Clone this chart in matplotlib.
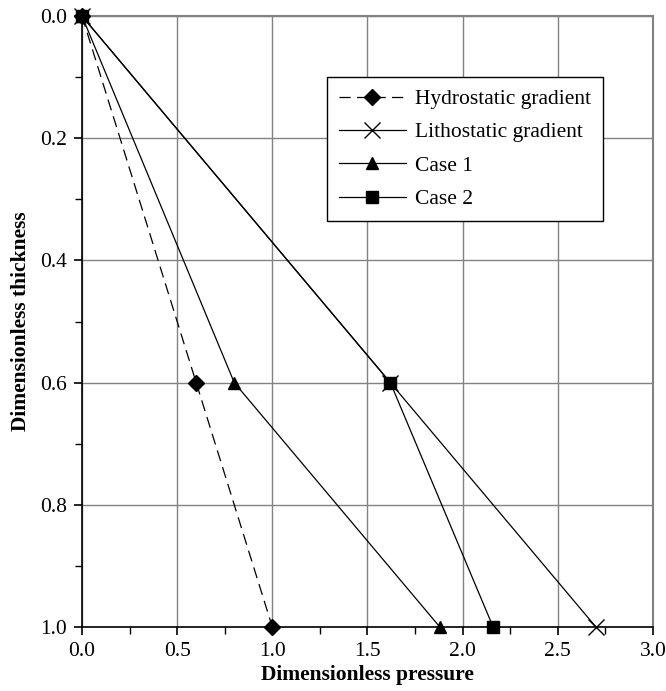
import matplotlib
matplotlib.use("Agg")
import matplotlib.pyplot as plt
from matplotlib.ticker import MultipleLocator, FormatStrFormatter

plt.rcParams['font.family'] = ['Liberation Serif', 'DejaVu Serif']

# Dimensionless thickness (depth) at each point
thickness = [0.0, 0.6, 1.0]

# Dimensionless pressure for each profile
hydrostatic = [0.0, 0.6, 1.0]
lithostatic = [0.0, 1.62, 2.7]
case1 = [0.0, 0.8, 1.88]
case2 = [0.0, 1.62, 2.16]

labels = ["Hydrostatic gradient", "Lithostatic gradient", "Case 1", "Case 2"]

fig = plt.figure(figsize=(6.66, 6.91), dpi=100)
ax = fig.add_axes([0.1231, 0.0926, 0.8574, 0.8842])

grid_col = "#828282"
ax.plot(hydrostatic, thickness, color="black", lw=0.9, ls=(0, (9, 5)),
        marker="D", ms=8.5, mfc="black", mec="black", label=labels[0], clip_on=False, zorder=5)
ax.plot(lithostatic, thickness, color="black", lw=0.9,
        marker="x", ms=11, mew=1.0, mec="black", label=labels[1], clip_on=False, zorder=5)
ax.plot(case1, thickness, color="black", lw=0.9,
        marker="^", ms=8.5, mfc="black", mec="black", label=labels[2], clip_on=False, zorder=5)
ax.plot(case2, thickness, color="black", lw=0.9,
        marker="s", ms=8.5, mfc="black", mec="black", label=labels[3], clip_on=False, zorder=5)

ax.set_xlim(0, 3.0)
ax.set_ylim(1.0, 0.0)
ax.xaxis.set_major_locator(MultipleLocator(0.5))
ax.xaxis.set_minor_locator(MultipleLocator(0.25))
ax.yaxis.set_major_locator(MultipleLocator(0.2))
ax.yaxis.set_minor_locator(MultipleLocator(0.1))
ax.xaxis.set_major_formatter(FormatStrFormatter("%.1f"))
ax.yaxis.set_major_formatter(FormatStrFormatter("%.1f"))

ax.grid(True, which="major", color=grid_col, lw=1.0)
ax.set_axisbelow(True)

for s in ("top", "right"):
    ax.spines[s].set_color(grid_col)
    ax.spines[s].set_linewidth(1.5)
for s in ("left", "bottom"):
    ax.spines[s].set_color("black")
    ax.spines[s].set_linewidth(1.2)

ax.tick_params(which="major", direction="out", length=6, width=1.2,
               labelsize=15.5, colors="black", pad=5)
ax.tick_params(which="minor", direction="out", length=5, width=1.0)

ax.set_xlabel("Dimensionless pressure", fontsize=15.5, fontweight="bold", labelpad=3)
ax.set_ylabel("Dimensionless thickness", fontsize=15.5, fontweight="bold", labelpad=6)

leg = ax.legend(loc="upper left", bbox_to_anchor=(0.429, 0.9), fontsize=15.5,
                handlelength=3.1, handletextpad=0.45, labelspacing=0.62,
                borderpad=0.55, fancybox=False, framealpha=1.0,
                edgecolor="black", borderaxespad=0)
leg.get_frame().set_linewidth(1.0)

fig.savefig("out.png", dpi=100)
